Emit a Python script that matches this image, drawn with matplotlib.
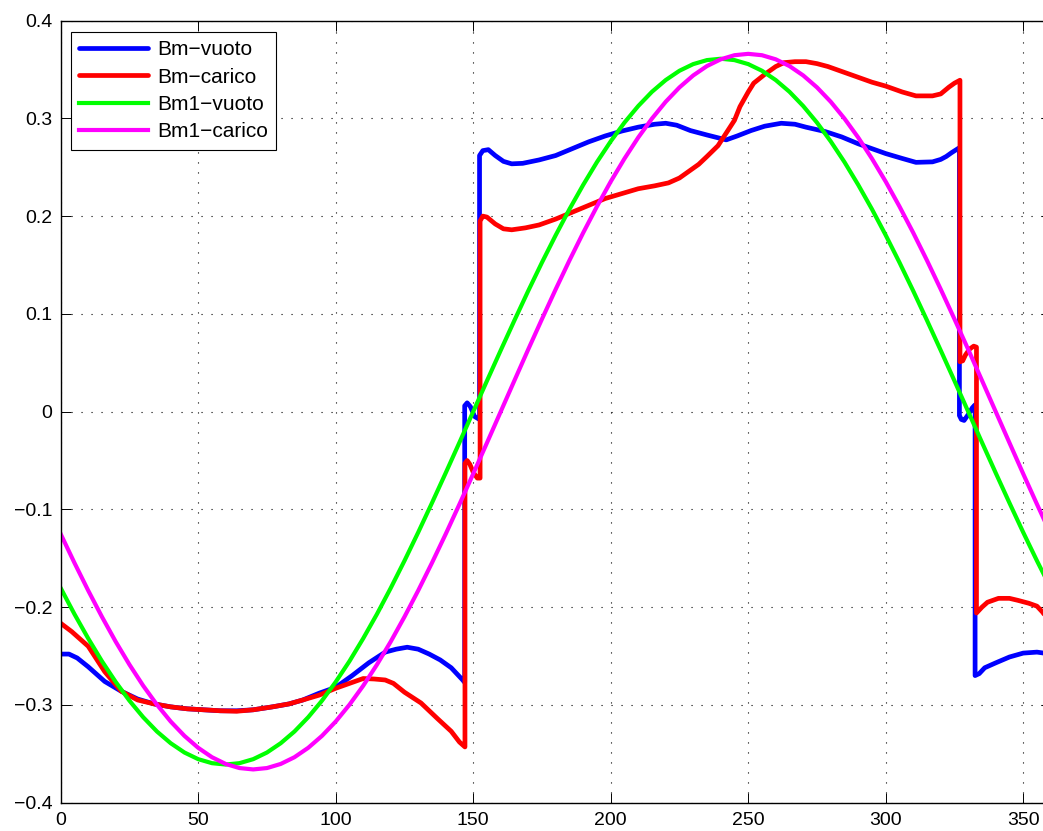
import matplotlib
matplotlib.use("Agg")
import matplotlib.pyplot as plt

plt.rcParams['font.family'] = ['Liberation Sans', 'DejaVu Sans']

# ---- data ----
bm_vuoto_x = [0, 3, 6, 10, 16, 22, 28, 34, 40, 46, 52, 58, 64, 70, 77, 83, 88, 94, 100,
              106, 112, 118, 122, 126, 130, 134, 138, 142, 146, 146.9,
              146.9, 147.8, 149, 150.5, 152.3,
              152.3, 153.5, 155.5, 158, 161, 164, 168, 174, 180, 186, 192, 198, 204,
              210, 216, 220, 224, 229, 235, 242, 246, 251, 256, 262, 267, 271, 278,
              284, 290, 295, 300, 306, 311, 317, 320, 322, 324, 326.8,
              326.8, 327.5, 328.5, 330, 331.5, 332.5,
              332.5, 334, 336, 340, 345, 350, 355, 360]
bm_vuoto_y = [-0.248, -0.248, -0.252, -0.261, -0.276, -0.286, -0.294, -0.299, -0.302,
              -0.304, -0.305, -0.306, -0.306, -0.305, -0.302, -0.299, -0.295, -0.288,
              -0.282, -0.270, -0.257, -0.246, -0.243, -0.241, -0.243, -0.248, -0.254,
              -0.262, -0.274, -0.277,
              0.006, 0.009, 0.005, -0.005, -0.008,
              0.262, 0.267, 0.268, 0.262, 0.256, 0.2535, 0.254, 0.2575, 0.262, 0.269,
              0.276, 0.282, 0.287, 0.291, 0.294, 0.295, 0.293, 0.2875, 0.283, 0.278,
              0.282, 0.2875, 0.292, 0.295, 0.294, 0.291, 0.2865, 0.281, 0.274, 0.269,
              0.264, 0.259, 0.255, 0.2555, 0.258, 0.261, 0.265, 0.270,
              -0.004, -0.008, -0.009, -0.003, 0.004, 0.007,
              -0.270, -0.268, -0.262, -0.257, -0.251, -0.247, -0.246, -0.248]

bm_carico_x = [0, 4, 10, 16, 22, 28, 34, 40, 46, 52, 58, 64, 70, 77, 83, 88, 94, 100,
               105, 110, 114, 118, 121, 125, 131, 137, 142, 145, 147,
               147, 147.8, 148.8, 150, 151.5, 152.5,
               152.5, 153.5, 155, 158, 161, 164, 169, 174, 180, 186, 192, 198, 204,
               210, 216, 221, 225, 228, 232, 235, 239, 242, 245, 247, 250, 252, 256,
               260, 263, 267, 271, 275, 279, 284, 290, 295, 300, 306, 311, 317, 320,
               323, 325, 327,
               327, 328, 329, 330.5, 332, 333,
               333, 335, 337, 341, 345, 348, 352, 355, 357, 360]
bm_carico_y = [-0.2165, -0.225, -0.240, -0.266, -0.286, -0.295, -0.299, -0.302, -0.304,
               -0.305, -0.306, -0.3065, -0.305, -0.302, -0.299, -0.295, -0.290, -0.283,
               -0.278, -0.273, -0.2735, -0.2745, -0.278, -0.287, -0.298, -0.314, -0.327,
               -0.338, -0.343,
               -0.053, -0.050, -0.054, -0.062, -0.068, -0.068,
               0.195, 0.200, 0.199, 0.192, 0.187, 0.186, 0.188, 0.191, 0.197, 0.204,
               0.211, 0.218, 0.223, 0.228, 0.231, 0.234, 0.239, 0.245, 0.253, 0.261,
               0.272, 0.285, 0.298, 0.312, 0.327, 0.336, 0.345, 0.353, 0.357, 0.358,
               0.358, 0.356, 0.353, 0.348, 0.342, 0.337, 0.333, 0.327, 0.323, 0.323,
               0.325, 0.332, 0.336, 0.339,
               0.051, 0.052, 0.058, 0.064, 0.067, 0.066,
               -0.206, -0.200, -0.195, -0.191, -0.191, -0.193, -0.196, -0.199, -0.205,
               -0.2165]

bm1_x = [0, 5, 10, 15, 20, 25, 30, 35, 40, 45, 50, 55, 60, 65, 70, 75, 80, 85, 90, 95,
         100, 105, 110, 115, 120, 125, 130, 135, 140, 145, 150, 155, 160, 165, 170, 175,
         180, 185, 190, 195, 200, 205, 210, 215, 220, 225, 230, 235, 240, 245, 250, 255,
         260, 265, 270, 275, 280, 285, 290, 295, 300, 305, 310, 315, 320, 325, 330, 335,
         340, 345, 350, 355, 360]
bm1_vuoto_y = [-0.1805, -0.2071, -0.2320, -0.2553, -0.2765, -0.2957, -0.3126, -0.3272,
               -0.3392, -0.3487, -0.3555, -0.3596, -0.361, -0.3596, -0.3555, -0.3487,
               -0.3392, -0.3272, -0.3126, -0.2957, -0.2765, -0.2553, -0.2320, -0.2071,
               -0.1805, -0.1526, -0.1235, -0.0934, -0.0627, -0.0315, 0.0, 0.0315,
               0.0627, 0.0934, 0.1235, 0.1526, 0.1805, 0.2071, 0.2320, 0.2553, 0.2765,
               0.2957, 0.3126, 0.3272, 0.3392, 0.3487, 0.3555, 0.3596, 0.361, 0.3596,
               0.3555, 0.3487, 0.3392, 0.3272, 0.3126, 0.2957, 0.2765, 0.2553, 0.2320,
               0.2071, 0.1805, 0.1526, 0.1235, 0.0934, 0.0627, 0.0315, 0.0, -0.0315,
               -0.0627, -0.0934, -0.1235, -0.1526, -0.1805]
bm1_carico_y = [-0.1252, -0.1547, -0.1830, -0.2099, -0.2353, -0.2588, -0.2804, -0.2998,
                -0.3170, -0.3317, -0.3439, -0.3535, -0.3604, -0.3646, -0.366, -0.3646,
                -0.3604, -0.3535, -0.3439, -0.3317, -0.3170, -0.2998, -0.2804, -0.2588,
                -0.2353, -0.2099, -0.1830, -0.1547, -0.1252, -0.0947, -0.0636, -0.0319,
                0.0, 0.0319, 0.0636, 0.0947, 0.1252, 0.1547, 0.1830, 0.2099, 0.2353,
                0.2588, 0.2804, 0.2998, 0.3170, 0.3317, 0.3439, 0.3535, 0.3604, 0.3646,
                0.366, 0.3646, 0.3604, 0.3535, 0.3439, 0.3317, 0.3170, 0.2998, 0.2804,
                0.2588, 0.2353, 0.2099, 0.1830, 0.1547, 0.1252, 0.0947, 0.0636, 0.0319,
                0.0, -0.0319, -0.0636, -0.0947, -0.1252]

labels = ['Bm\u2212vuoto', 'Bm\u2212carico', 'Bm1\u2212vuoto', 'Bm1\u2212carico']
colors = ['#0000ff', '#ff0000', '#00ff00', '#ff00ff']

x_ticks = [0, 50, 100, 150, 200, 250, 300, 350]
x_ticklabels = ['0', '50', '100', '150', '200', '250', '300', '350']
y_ticks = [-0.4, -0.3, -0.2, -0.1, 0, 0.1, 0.2, 0.3, 0.4]
y_ticklabels = ['\u22120.4', '\u22120.3', '\u22120.2', '\u22120.1', '0',
                '0.1', '0.2', '0.3', '0.4']

# ---- figure ----
fig = plt.figure(figsize=(10.43, 8.31), dpi=100)
ax = fig.add_axes([0.0582, 0.0341, 0.9492, 0.9411])

ax.plot(bm_vuoto_x, bm_vuoto_y, color=colors[0], lw=3.4, label=labels[0],
        solid_joinstyle='round', solid_capstyle='round')
ax.plot(bm_carico_x, bm_carico_y, color=colors[1], lw=3.4, label=labels[1],
        solid_joinstyle='round', solid_capstyle='round')
ax.plot(bm1_x, bm1_vuoto_y, color=colors[2], lw=3.0, label=labels[2])
ax.plot(bm1_x, bm1_carico_y, color=colors[3], lw=3.0, label=labels[3])

ax.set_xlim(0, 360)
ax.set_ylim(-0.4, 0.4)
ax.set_xticks(x_ticks)
ax.set_xticklabels(x_ticklabels)
ax.set_yticks(y_ticks)
ax.set_yticklabels(y_ticklabels)

ax.tick_params(axis='both', direction='in', length=7.2, width=0.7,
               labelsize=14, top=True, right=True)
ax.tick_params(axis='x', pad=7)
ax.tick_params(axis='y', pad=6)
for s in ax.spines.values():
    s.set_linewidth(1.0)

ax.grid(True, color='black', linestyle=(0, (1, 8)), linewidth=0.8)
ax.set_axisbelow(True)

leg = ax.legend(loc='upper left', bbox_to_anchor=(0.0101, 0.9856),
                borderaxespad=0, fontsize=15, handlelength=3.3,
                handletextpad=0.45, labelspacing=0.4, borderpad=0.4,
                fancybox=False, framealpha=1, edgecolor='black')
leg.get_frame().set_linewidth(0.8)

fig.savefig('out.png', dpi=100)
